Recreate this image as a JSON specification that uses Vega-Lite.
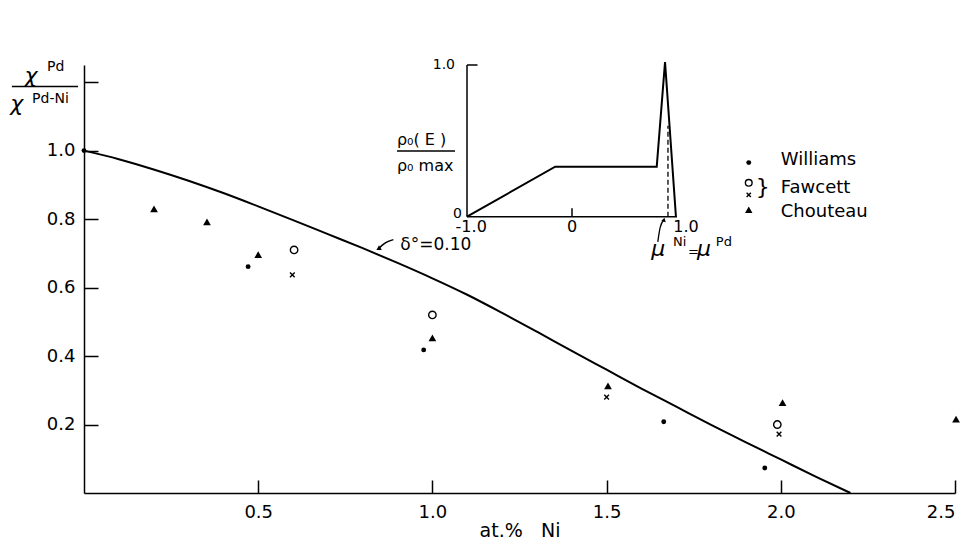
{
  "$schema": "https://vega.github.io/schema/vega-lite/v6.json",
  "width": 871,
  "height": 428,
  "autosize": {"type": "none"},
  "padding": {"left": 84, "top": 65, "right": 13, "bottom": 47},
  "background": "white",
  "config": {"view": {"stroke": null}, "font": "DejaVu Sans", "text": {"font": "DejaVu Sans", "color": "black"}},
  "datasets": {
    "curve": [
      {"x": 0, "y": 1.0}, {"x": 0.1, "y": 0.975}, {"x": 0.2, "y": 0.945}, {"x": 0.3, "y": 0.912},
      {"x": 0.4, "y": 0.876}, {"x": 0.5, "y": 0.837}, {"x": 0.6, "y": 0.797}, {"x": 0.7, "y": 0.756},
      {"x": 0.8, "y": 0.715}, {"x": 0.9, "y": 0.672}, {"x": 1.0, "y": 0.627}, {"x": 1.1, "y": 0.579},
      {"x": 1.2, "y": 0.526}, {"x": 1.3, "y": 0.471}, {"x": 1.4, "y": 0.415}, {"x": 1.5, "y": 0.36},
      {"x": 1.6, "y": 0.305}, {"x": 1.7, "y": 0.252}, {"x": 1.8, "y": 0.199}, {"x": 1.9, "y": 0.148},
      {"x": 2.0, "y": 0.098}, {"x": 2.1, "y": 0.048}, {"x": 2.2, "y": 0.0}
    ],
    "obs": [
      {"series": "Williams", "x": 0, "y": 1.0},
      {"series": "Williams", "x": 0.471, "y": 0.661},
      {"series": "Williams", "x": 0.975, "y": 0.418},
      {"series": "Williams", "x": 1.664, "y": 0.208},
      {"series": "Williams", "x": 1.954, "y": 0.073},
      {"series": "Fawcett o", "x": 0.603, "y": 0.71},
      {"series": "Fawcett o", "x": 1.0, "y": 0.52},
      {"series": "Fawcett o", "x": 1.99, "y": 0.2},
      {"series": "Fawcett x", "x": 0.598, "y": 0.637},
      {"series": "Fawcett x", "x": 1.5, "y": 0.28},
      {"series": "Fawcett x", "x": 1.995, "y": 0.172},
      {"series": "Chouteau", "x": 0.201, "y": 0.83},
      {"series": "Chouteau", "x": 0.353, "y": 0.792},
      {"series": "Chouteau", "x": 0.5, "y": 0.696},
      {"series": "Chouteau", "x": 1.0, "y": 0.453},
      {"series": "Chouteau", "x": 1.504, "y": 0.313},
      {"series": "Chouteau", "x": 2.005, "y": 0.264},
      {"series": "Chouteau", "x": 2.503, "y": 0.216}
    ],
    "keys": [
      {"series": "Williams", "x": 1.908, "y": 0.965},
      {"series": "Fawcett o", "x": 1.908, "y": 0.906},
      {"series": "Fawcett x", "x": 1.908, "y": 0.871},
      {"series": "Chouteau", "x": 1.908, "y": 0.827}
    ],
    "notes": [
      {"role": "legend", "text": "Williams", "x": 2.0, "y": 0.974},
      {"role": "legend", "text": "Fawcett", "x": 2.0, "y": 0.892},
      {"role": "legend", "text": "Chouteau", "x": 2.0, "y": 0.822},
      {"role": "brace", "text": "}", "x": 1.948, "y": 0.895},
      {"role": "delta", "text": "δ°=0.10", "x": 0.908, "y": 0.725},
      {"role": "chi", "text": "χ", "x": -0.152, "y": 1.219},
      {"role": "chi", "text": "χ", "x": -0.193, "y": 1.135},
      {"role": "chisup", "text": "Pd", "x": -0.106, "y": 1.243},
      {"role": "chisup", "text": "Pd-Ni", "x": -0.149, "y": 1.152}
    ],
    "fraction": [
      {"x": -0.207, "x2": -0.017, "y": 1.187}
    ],
    "arrow": [
      {"o": 1, "x": 0.888, "y": 0.74},
      {"o": 2, "x": 0.866, "y": 0.731},
      {"o": 3, "x": 0.845, "y": 0.713}
    ],
    "dos": [
      {"x": -1.0, "y": 0.0}, {"x": -0.16, "y": 0.33}, {"x": 0.807, "y": 0.33},
      {"x": 0.886, "y": 1.02}, {"x": 0.99, "y": 0.0}
    ],
    "frame": [
      {"x": -1.0, "y": 0.0, "x2": 1.0, "y2": 0.0},
      {"x": -1.0, "y": 0.0, "x2": -1.0, "y2": 1.0},
      {"x": -1.0, "y": 1.0, "x2": -0.9, "y2": 1.0},
      {"x": 0.0, "y": 0.0, "x2": 0.0, "y2": 0.055}
    ],
    "fermi": [
      {"x": 0.914, "y": 0.0, "y2": 0.6}
    ],
    "insetnotes": [
      {"role": "ytick", "text": "1.0", "x": -1.114, "y": 1.0},
      {"role": "ytick", "text": "0", "x": -1.048, "y": 0.02},
      {"role": "xtick", "text": "-1.0", "x": -0.96, "y": -0.068},
      {"role": "xtick", "text": "0", "x": 0.0, "y": -0.068},
      {"role": "xtick", "text": "1.0", "x": 1.086, "y": -0.068},
      {"role": "rho", "text": "ρ₀( E )", "x": -1.667, "y": 0.506},
      {"role": "rho", "text": "ρ₀ max", "x": -1.667, "y": 0.334},
      {"role": "mu", "text": "μ", "x": 0.755, "y": -0.214},
      {"role": "musup", "text": "Ni", "x": 0.962, "y": -0.168},
      {"role": "eq", "text": "=", "x": 1.105, "y": -0.232},
      {"role": "mu", "text": "μ", "x": 1.19, "y": -0.214},
      {"role": "musup", "text": "Pd", "x": 1.37, "y": -0.168}
    ],
    "rholine": [
      {"x": -1.667, "x2": -1.114, "y": 0.433}
    ],
    "muarrow": [
      {"o": 1, "x": 0.817, "y": -0.166},
      {"o": 2, "x": 0.84, "y": -0.07},
      {"o": 3, "x": 0.876, "y": -0.02}
    ]
  },
  "layer": [
    {
      "encoding": {
        "x": {
          "field": "x", "type": "quantitative",
          "scale": {"domain": [0, 2.5], "nice": false, "zero": false},
          "axis": {
            "values": [0.5, 1, 1.5, 2, 2.5], "format": ".1f", "grid": false,
            "tickSize": -13, "tickWidth": 1.5, "tickColor": "black",
            "domainColor": "black", "domainWidth": 1.5,
            "labelPadding": 23, "labelFontSize": 18, "labelColor": "black", "labelFont": "DejaVu Sans",
            "title": "at.%\u00a0\u00a0\u00a0Ni", "titleFontSize": 19, "titleFontWeight": "normal", "titleColor": "black",
            "titleFont": "DejaVu Sans", "titlePadding": 0
          }
        },
        "y": {
          "field": "y", "type": "quantitative",
          "scale": {"domain": [0, 1.25], "nice": false, "zero": false},
          "axis": {
            "values": [0.2, 0.4, 0.6, 0.8, 1.0, 1.2], "grid": false,
            "labelExpr": "datum.value > 1.1 ? '' : format(datum.value, '.1f')",
            "tickSize": -14, "tickWidth": 1.5, "tickColor": "black",
            "domainColor": "black", "domainWidth": 1.5,
            "labelPadding": 23, "labelFontSize": 18, "labelColor": "black", "labelFont": "DejaVu Sans",
            "title": null
          }
        }
      },
      "layer": [
        {"data": {"name": "curve"}, "mark": {"type": "line", "color": "black", "strokeWidth": 2, "interpolate": "monotone"}, "encoding": {}},
        {"data": {"name": "obs"}, "transform": [{"filter": "datum.series === 'Williams'"}],
         "mark": {"type": "point", "shape": "circle", "filled": true, "color": "black", "size": 24, "opacity": 1}},
        {"data": {"name": "obs"}, "transform": [{"filter": "datum.series === 'Fawcett o'"}],
         "mark": {"type": "point", "shape": "circle", "filled": false, "color": "black", "size": 55, "strokeWidth": 1.4, "opacity": 1}},
        {"data": {"name": "obs"}, "transform": [{"filter": "datum.series === 'Fawcett x'"}],
         "mark": {"type": "point", "shape": "M-1,-1L1,1M1,-1L-1,1", "filled": false, "color": "black", "size": 22, "strokeWidth": 1.4, "opacity": 1}},
        {"data": {"name": "obs"}, "transform": [{"filter": "datum.series === 'Chouteau'"}],
         "mark": {"type": "point", "shape": "triangle-up", "filled": true, "color": "black", "size": 60, "opacity": 1}},
        {"data": {"name": "keys"}, "transform": [{"filter": "datum.series === 'Williams'"}],
         "mark": {"type": "point", "shape": "circle", "filled": true, "color": "black", "size": 24, "opacity": 1}},
        {"data": {"name": "keys"}, "transform": [{"filter": "datum.series === 'Fawcett o'"}],
         "mark": {"type": "point", "shape": "circle", "filled": false, "color": "black", "size": 45, "strokeWidth": 1.4, "opacity": 1}},
        {"data": {"name": "keys"}, "transform": [{"filter": "datum.series === 'Fawcett x'"}],
         "mark": {"type": "point", "shape": "M-1,-1L1,1M1,-1L-1,1", "filled": false, "color": "black", "size": 18, "strokeWidth": 1.4, "opacity": 1}},
        {"data": {"name": "keys"}, "transform": [{"filter": "datum.series === 'Chouteau'"}],
         "mark": {"type": "point", "shape": "triangle-up", "filled": true, "color": "black", "size": 55, "opacity": 1}},
        {"data": {"name": "notes"}, "transform": [{"filter": "datum.role === 'legend'"}],
         "mark": {"type": "text", "align": "left", "baseline": "middle", "fontSize": 18},
         "encoding": {"text": {"field": "text"}}},
        {"data": {"name": "notes"}, "transform": [{"filter": "datum.role === 'brace'"}],
         "mark": {"type": "text", "align": "center", "baseline": "middle", "fontSize": 22},
         "encoding": {"text": {"field": "text"}}},
        {"data": {"name": "notes"}, "transform": [{"filter": "datum.role === 'delta'"}],
         "mark": {"type": "text", "align": "left", "baseline": "middle", "fontSize": 17},
         "encoding": {"text": {"field": "text"}}},
        {"data": {"name": "notes"}, "transform": [{"filter": "datum.role === 'chi'"}],
         "mark": {"type": "text", "align": "center", "baseline": "middle", "fontSize": 22, "fontStyle": "italic"},
         "encoding": {"text": {"field": "text"}}},
        {"data": {"name": "notes"}, "transform": [{"filter": "datum.role === 'chisup'"}],
         "mark": {"type": "text", "align": "left", "baseline": "middle", "fontSize": 14},
         "encoding": {"text": {"field": "text"}}},
        {"data": {"name": "fraction"}, "mark": {"type": "rule", "color": "black", "strokeWidth": 1.5},
         "encoding": {"x2": {"field": "x2"}}},
        {"data": {"name": "arrow"}, "mark": {"type": "line", "color": "black", "strokeWidth": 1.5, "interpolate": "monotone"},
         "encoding": {"order": {"field": "o", "type": "quantitative"}}},
        {"data": {"name": "arrow"}, "transform": [{"filter": "datum.o === 3"}],
         "mark": {"type": "point", "shape": "triangle-up", "filled": true, "color": "black", "size": 30, "angle": 239, "opacity": 1}}
      ]
    },
    {
      "encoding": {
        "x": {"field": "x", "type": "quantitative", "scale": {"domain": [-1, 1], "range": [383, 593], "nice": false, "zero": false}, "axis": null},
        "y": {"field": "y", "type": "quantitative", "scale": {"domain": [0, 1], "range": [151.7, 0], "nice": false, "zero": false}, "axis": null}
      },
      "layer": [
        {"data": {"name": "frame"}, "mark": {"type": "rule", "color": "black", "strokeWidth": 1.5},
         "encoding": {"x2": {"field": "x2"}, "y2": {"field": "y2"}}},
        {"data": {"name": "dos"}, "mark": {"type": "line", "color": "black", "strokeWidth": 2}, "encoding": {}},
        {"data": {"name": "fermi"}, "mark": {"type": "rule", "color": "black", "strokeWidth": 1.3, "strokeDash": [5, 3]},
         "encoding": {"y2": {"field": "y2"}}},
        {"data": {"name": "insetnotes"}, "transform": [{"filter": "datum.role === 'ytick'"}],
         "mark": {"type": "text", "align": "right", "baseline": "middle", "fontSize": 14},
         "encoding": {"text": {"field": "text"}}},
        {"data": {"name": "insetnotes"}, "transform": [{"filter": "datum.role === 'xtick'"}],
         "mark": {"type": "text", "align": "center", "baseline": "middle", "fontSize": 16},
         "encoding": {"text": {"field": "text"}}},
        {"data": {"name": "insetnotes"}, "transform": [{"filter": "datum.role === 'rho'"}],
         "mark": {"type": "text", "align": "left", "baseline": "middle", "fontSize": 16},
         "encoding": {"text": {"field": "text"}}},
        {"data": {"name": "rholine"}, "mark": {"type": "rule", "color": "black", "strokeWidth": 1.5},
         "encoding": {"x2": {"field": "x2"}}},
        {"data": {"name": "insetnotes"}, "transform": [{"filter": "datum.role === 'mu'"}],
         "mark": {"type": "text", "align": "left", "baseline": "middle", "fontSize": 22, "fontStyle": "italic"},
         "encoding": {"text": {"field": "text"}}},
        {"data": {"name": "insetnotes"}, "transform": [{"filter": "datum.role === 'musup'"}],
         "mark": {"type": "text", "align": "left", "baseline": "middle", "fontSize": 13},
         "encoding": {"text": {"field": "text"}}},
        {"data": {"name": "insetnotes"}, "transform": [{"filter": "datum.role === 'eq'"}],
         "mark": {"type": "text", "align": "left", "baseline": "middle", "fontSize": 13},
         "encoding": {"text": {"field": "text"}}},
        {"data": {"name": "muarrow"}, "mark": {"type": "line", "color": "black", "strokeWidth": 1.3, "interpolate": "monotone"},
         "encoding": {"order": {"field": "o", "type": "quantitative"}}},
        {"data": {"name": "muarrow"}, "transform": [{"filter": "datum.o === 3"}],
         "mark": {"type": "point", "shape": "triangle-up", "filled": true, "color": "black", "size": 22, "angle": 15, "opacity": 1}}
      ]
    }
  ],
  "resolve": {"scale": {"x": "independent", "y": "independent"}}
}
